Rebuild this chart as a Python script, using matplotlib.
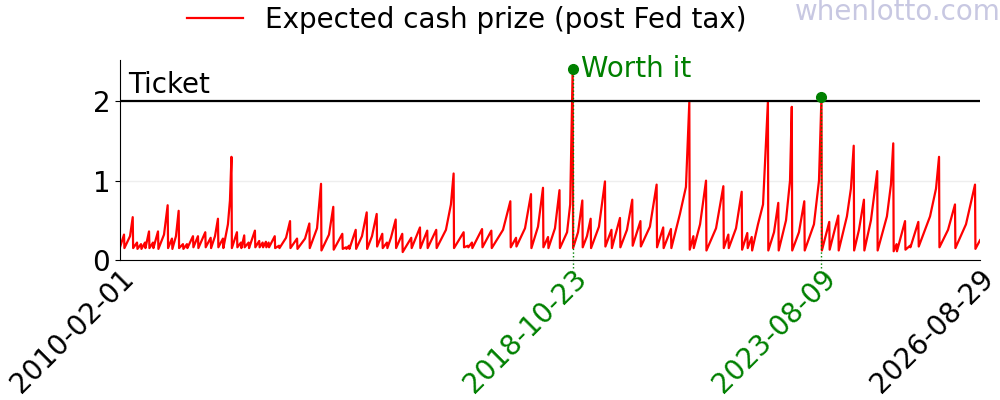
import numpy as np
import pandas as pd
import matplotlib
matplotlib.use('Agg')
from matplotlib import pyplot as plt

# jackpot cycles: date of the draw that was won (fractional year), value reached,
# value right after the reset
peak_year = [2010.162, 2010.330, 2010.413, 2010.490, 2010.567, 2010.644, 2010.721, 2010.817,
             2011.004, 2011.087, 2011.216, 2011.299, 2011.376, 2011.492, 2011.588, 2011.729,
             2011.833, 2011.973, 2012.070, 2012.234, 2012.340, 2012.417, 2012.480, 2012.565,
             2012.686, 2012.769, 2012.835, 2012.898, 2012.950, 2013.066, 2013.149, 2013.361,
             2013.496, 2013.733, 2013.958, 2014.195, 2014.369, 2014.440, 2014.498, 2014.627,
             2014.839, 2015.032, 2015.140, 2015.230, 2015.398, 2015.525, 2015.698, 2015.866,
             2016.007, 2016.180, 2016.515, 2016.708, 2016.791, 2016.868, 2017.061, 2017.240,
             2017.606, 2017.716, 2018.005, 2018.236, 2018.333, 2018.554, 2018.808, 2018.994,
             2019.155, 2019.431, 2019.556, 2019.720, 2019.957, 2020.115, 2020.427, 2020.554,
             2020.703, 2021.055, 2021.133, 2021.377, 2021.711, 2021.807, 2022.065, 2022.173,
             2022.258, 2022.570, 2022.770, 2023.031, 2023.272, 2023.603, 2023.753, 2023.927,
             2024.225, 2024.422, 2024.678, 2024.987, 2025.048, 2025.212, 2025.308, 2025.468,
             2025.867, 2026.175, 2026.561]
peak_val = [0.32, 0.54, 0.22, 0.20, 0.22, 0.36, 0.22, 0.36,
            0.69, 0.27, 0.62, 0.20, 0.20, 0.30, 0.30, 0.35,
            0.28, 0.52, 0.27, 1.30, 0.35, 0.22, 0.31, 0.22,
            0.37, 0.24, 0.22, 0.23, 0.22, 0.30, 0.18, 0.49,
            0.27, 0.46, 0.96, 0.67, 0.33, 0.16, 0.18, 0.38,
            0.60, 0.58, 0.33, 0.22, 0.51, 0.33, 0.28, 0.41,
            0.37, 0.38, 1.09, 0.35, 0.18, 0.22, 0.39, 0.37,
            0.74, 0.28, 0.83, 0.91, 0.29, 0.88, 2.41, 0.75,
            0.52, 0.99, 0.38, 0.53, 0.76, 0.49, 0.95, 0.41,
            0.39, 1.99, 0.30, 1.00, 0.93, 0.32, 0.86, 0.34,
            0.29, 1.99, 0.72, 1.93, 0.74, 2.06, 0.48, 0.56,
            1.44, 0.76, 1.12, 1.47, 0.20, 0.49, 0.18, 0.48,
            1.30, 0.70, 0.95]
reset_val = [0.15, 0.15, 0.14, 0.14, 0.15, 0.15, 0.15, 0.14,
             0.15, 0.14, 0.15, 0.14, 0.15, 0.16, 0.15, 0.16,
             0.15, 0.16, 0.15, 0.15, 0.16, 0.15, 0.16, 0.15,
             0.16, 0.16, 0.16, 0.16, 0.16, 0.15, 0.15, 0.15,
             0.14, 0.15, 0.12, 0.13, 0.14, 0.14, 0.14, 0.14,
             0.14, 0.17, 0.15, 0.15, 0.15, 0.10, 0.15, 0.15,
             0.15, 0.15, 0.15, 0.16, 0.16, 0.15, 0.16, 0.15,
             0.16, 0.17, 0.15, 0.16, 0.15, 0.15, 0.15, 0.16,
             0.15, 0.17, 0.15, 0.16, 0.18, 0.17, 0.16, 0.15,
             0.15, 0.13, 0.15, 0.12, 0.15, 0.15, 0.13, 0.15,
             0.12, 0.12, 0.12, 0.12, 0.12, 0.12, 0.13, 0.12,
             0.12, 0.12, 0.12, 0.11, 0.11, 0.13, 0.16, 0.17,
             0.16, 0.15, 0.14]

# points on the way up for the longer runs
knee_year = [2010.278, 2010.933, 2011.164, 2011.916, 2012.166, 2012.205, 2013.284, 2013.650,
             2013.881, 2014.112, 2014.748, 2014.941, 2015.307, 2016.367, 2016.463, 2017.465,
             2017.889, 2018.140, 2018.467, 2018.700, 2018.760, 2018.911, 2019.084, 2019.315,
             2019.855, 2020.298, 2020.780, 2020.876, 2020.992, 2021.262, 2021.570, 2021.955,
             2022.379, 2022.476, 2022.688, 2022.919, 2022.996, 2023.169, 2023.458, 2023.555,
             2024.094, 2024.171, 2024.326, 2024.557, 2024.865, 2024.942, 2025.694, 2025.809,
             2026.041, 2026.387]
knee_val = [0.30, 0.32, 0.30, 0.30, 0.45, 0.75, 0.28, 0.27,
            0.40, 0.32, 0.30, 0.30, 0.28, 0.38, 0.70, 0.38,
            0.40, 0.42, 0.40, 0.35, 0.70, 0.35, 0.30, 0.42,
            0.38, 0.42, 0.33, 0.58, 0.92, 0.45, 0.40, 0.40,
            0.45, 0.70, 0.35, 0.50, 1.00, 0.35, 0.45, 1.00,
            0.55, 0.90, 0.38, 0.50, 0.55, 0.95, 0.55, 0.90,
            0.38, 0.45]

start_val = 0.16
end_year, end_val = 2026.658, 0.25

ticket = 2
worth_dates = ['2018-10-23', '2023-08-09']
worth_vals = [2.41, 2.06]
tick_dates = ['2010-02-01', '2018-10-23', '2023-08-09', '2026-08-29']
tick_colors = ['black', 'green', 'green', 'black']


def to_date(y):
    yr = int(y)
    return pd.Timestamp(yr, 1, 1) + pd.Timedelta(days=(y - yr) * 365.25)


# assemble the line: rise (knees) -> peak -> drop to reset value
pts = [(2010.085, 0, start_val)]
for y, p, r in zip(peak_year, peak_val, reset_val):
    pts.append((y, 1, p))
    pts.append((y + 0.008, 0, r))
for y, v in zip(knee_year, knee_val):
    pts.append((y, 0, v))
pts.append((end_year, 0, end_val))
pts.sort(key=lambda t: (t[0], -t[1]))
line_x = [to_date(t[0]) for t in pts]
line_y = [t[2] for t in pts]

fig = plt.figure(figsize=(10, 4), dpi=100)
ax = fig.add_axes([0.12, 0.35, 0.86, 0.5])

ax.plot(line_x, line_y, color='red', lw=1.6, label='Expected cash prize (post Fed tax)')
ax.axhline(ticket, color='black', lw=1.6)
ax.text(pd.Timestamp('2010-04-01'), ticket + 0.03, 'Ticket', fontsize=20, va='bottom')

ymax = 2.52
wd = pd.to_datetime(worth_dates)
for d, v in zip(wd, worth_vals):
    ax.axvline(d, ymin=-0.04, ymax=v / ymax, color='green', ls=':', lw=1, clip_on=False)
ax.plot(wd, worth_vals, 'o', color='green', ms=7, zorder=5)
ax.text(wd[0] + pd.Timedelta(days=60), worth_vals[0], 'Worth it', color='green',
        fontsize=20, va='center')

ax.set_ylim(0, ymax)
ax.set_xlim(pd.Timestamp(tick_dates[0]), pd.Timestamp(tick_dates[-1]))
ax.set_yticks([0, 1, 2])
ax.set_xticks(pd.to_datetime(tick_dates))
ax.set_xticklabels(tick_dates, rotation=45, ha='right', rotation_mode='anchor')
for lab, c in zip(ax.get_xticklabels(), tick_colors):
    lab.set_color(c)
ax.tick_params(axis='both', labelsize=20)
ax.tick_params(axis='x', length=0, pad=3)
ax.yaxis.grid(True, color='#eeeeee', lw=1)
ax.set_axisbelow(True)
for s in ['top', 'right']:
    ax.spines[s].set_visible(False)

fig.legend(loc='center', bbox_to_anchor=(0.467, 0.95), frameon=False, fontsize=20)
fig.text(0.795, 0.97, 'whenlotto.com', fontsize=20, color='#c8c8e2', va='center')

fig.savefig('out.png')
